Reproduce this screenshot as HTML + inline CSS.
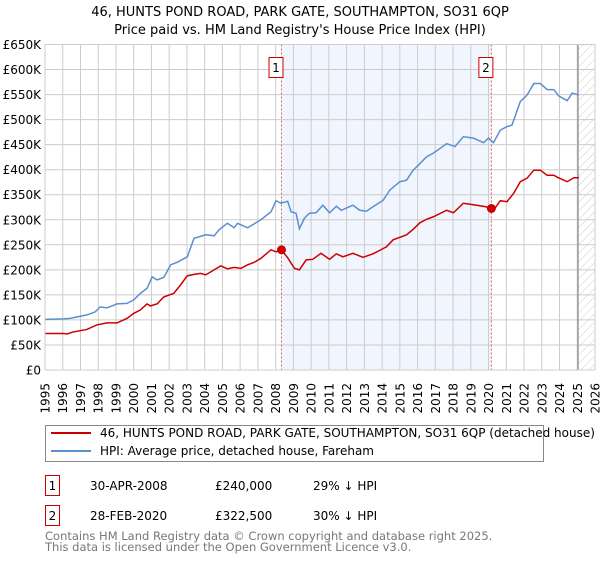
<!DOCTYPE html>
<html><head><meta charset="utf-8"><style>
body{margin:0;background:#fff}
svg text{font-family:"DejaVu Sans","Liberation Sans",sans-serif;}
</style></head><body>
<svg width="600" height="560" xmlns="http://www.w3.org/2000/svg">
<defs><pattern id="hatch" width="6" height="6" patternUnits="userSpaceOnUse" patternTransform="rotate(45)"><line x1="0" y1="0" x2="0" y2="6" stroke="#ccc" stroke-width="1"/></pattern></defs>
<text x="300" y="16" text-anchor="middle" font-size="13">46, HUNTS POND ROAD, PARK GATE, SOUTHAMPTON, SO31 6QP</text>
<text x="300" y="34" text-anchor="middle" font-size="13">Price paid vs. HM Land Registry's House Price Index (HPI)</text>
<g id="plot"></g>
<g>
<rect x="45.5" y="425.5" width="498" height="36" fill="#fff" stroke="#888"/>
<line x1="51" y1="433" x2="91" y2="433" stroke="#cc0000" stroke-width="2"/>
<text x="100" y="437" font-size="12">46, HUNTS POND ROAD, PARK GATE, SOUTHAMPTON, SO31 6QP (detached house)</text>
<line x1="51" y1="451" x2="91" y2="451" stroke="#5b8fd0" stroke-width="2"/>
<text x="100" y="455" font-size="12">HPI: Average price, detached house, Fareham</text>
</g>
<g>
<rect x="45.5" y="475.5" width="14" height="20" fill="#fff" stroke="#cc0000"/>
<text x="52.5" y="490" font-size="12" text-anchor="middle">1</text>
<text x="90" y="490" font-size="12">30-APR-2008</text>
<text x="215" y="490" font-size="12">£240,000</text>
<text x="313" y="490" font-size="12">29% ↓ HPI</text>
<rect x="45.5" y="505.5" width="14" height="20" fill="#fff" stroke="#cc0000"/>
<text x="52.5" y="520" font-size="12" text-anchor="middle">2</text>
<text x="90" y="520" font-size="12">28-FEB-2020</text>
<text x="215" y="520" font-size="12">£322,500</text>
<text x="313" y="520" font-size="12">30% ↓ HPI</text>
</g>
<text x="45" y="540" font-size="11.5" fill="#777">Contains HM Land Registry data © Crown copyright and database right 2025.</text>
<text x="45" y="551" font-size="11.5" fill="#777">This data is licensed under the Open Government Licence v3.0.</text>
</svg>
<script>
const hpiYears=[1995.0,1996.04,1996.42,1997.36,1997.83,1998.11,1998.49,1999.06,1999.62,2000.0,2000.38,2000.75,2001.04,2001.32,2001.7,2002.08,2002.45,2003.02,2003.4,2004.06,2004.53,2004.81,2005.28,2005.66,2005.85,2006.42,2007.17,2007.74,2008.02,2008.3,2008.68,2008.87,2009.15,2009.34,2009.62,2009.9,2010.28,2010.66,2011.04,2011.42,2011.7,2012.36,2012.74,2013.11,2013.49,2014.06,2014.43,2015.0,2015.38,2015.75,2016.13,2016.51,2016.89,2017.64,2018.11,2018.58,2019.15,2019.72,2020.0,2020.28,2020.66,2021.04,2021.32,2021.79,2022.17,2022.55,2022.92,2023.3,2023.68,2023.96,2024.43,2024.72,2025.09];
const hpiValues=[101,102,103,110,116,126,124,132,133,140,153,163,186,180,185,210,215,226,263,270,268,280,293,284,293,284,300,316,338,333,337,316,313,282,303,313,314,329,314,327,319,329,319,317,326,339,359,376,379,399,412,426,433,452,446,466,463,454,463,454,479,486,489,536,549,572,572,560,560,547,538,553,549];
const paidYears=[1995.0,1996.04,1996.23,1996.6,1997.36,1997.92,1998.49,1999.06,1999.62,2000.0,2000.38,2000.75,2000.94,2001.32,2001.7,2002.26,2002.64,2003.02,2003.4,2003.77,2004.06,2004.53,2004.91,2005.28,2005.66,2006.04,2006.42,2006.79,2007.17,2007.74,2008.02,2008.33,2008.68,2009.06,2009.34,2009.72,2010.09,2010.56,2011.04,2011.42,2011.79,2012.36,2012.92,2013.49,2014.25,2014.62,2015.38,2015.75,2016.13,2016.51,2016.89,2017.64,2018.02,2018.58,2019.34,2020.0,2020.16,2020.28,2020.66,2021.04,2021.42,2021.79,2022.17,2022.55,2022.92,2023.3,2023.68,2023.87,2024.43,2024.81,2025.09];
const paidValues=[73,73,72,76,81,90,94,94,103,113,120,132,128,132,146,153,170,188,191,193,190,200,208,202,205,203,210,215,223,240,236,240,224,203,200,220,221,233,221,232,226,233,225,232,246,260,270,281,294,301,306,319,314,333,329,325,322.5,319,338,336,353,376,383,399,399,389,389,385,376,384,384];
const saleYears=[2008.33,2020.16];
const saleValues=[240,322.5];
const saleLabels=["1","2"];
const yTicks=[0,50,100,150,200,250,300,350,400,450,500,550,600,650];
const yTickLabels=["£0","£50K","£100K","£150K","£200K","£250K","£300K","£350K","£400K","£450K","£500K","£550K","£600K","£650K"];
const xTicks=[1995,1996,1997,1998,1999,2000,2001,2002,2003,2004,2005,2006,2007,2008,2009,2010,2011,2012,2013,2014,2015,2016,2017,2018,2019,2020,2021,2022,2023,2024,2025,2026];
const dataEndYear=2025.04;

const L=45,R=595,T=44.5,B=370;
const xs=y=>L+(y-1995)/(2026-1995)*(R-L);
const ys=v=>B-v/650*(B-T);
const NS="http://www.w3.org/2000/svg";
const g=document.getElementById('plot');
function mk(tag,attrs,parent){const e=document.createElementNS(NS,tag);for(const k in attrs)e.setAttribute(k,attrs[k]);(parent||g).appendChild(e);return e;}
let e;
e=mk('rect',{x:xs(saleYears[0]),y:T,width:xs(saleYears[1])-xs(saleYears[0]),height:B-T,fill:'#eef3fc',opacity:0.8});


e=mk('rect',{x:xs(dataEndYear),y:T,width:R-xs(dataEndYear),height:B-T,fill:'url(#hatch)'});


yTicks.forEach((v,i)=>{
 e=mk('line',{x1:L,x2:R,y1:ys(v),y2:ys(v),stroke:'#cccccc','stroke-width':1});
 
 
 e=mk('text',{x:L-4,y:ys(v)+4.5,'text-anchor':'end','font-size':12});
 e.textContent=yTickLabels[i];
 
 
});
xTicks.forEach(yr=>{
 e=mk('line',{x1:xs(yr),x2:xs(yr),y1:T,y2:B,stroke:'#cccccc','stroke-width':1});
 
 
 e=mk('text',{transform:`translate(${xs(yr)+4.5},383) rotate(-90)`,'text-anchor':'end','font-size':12});
 e.textContent=String(yr);
 
 
});
e=mk('line',{x1:xs(dataEndYear),x2:xs(dataEndYear),y1:T,y2:B,stroke:'#999','stroke-width':1.5});


saleYears.forEach((yr,i)=>{
 e=mk('line',{x1:xs(yr),x2:xs(yr),y1:T,y2:B,stroke:'#e06060','stroke-width':1,'stroke-dasharray':'2,2'});
 
 
});
e=mk('polyline',{points:hpiYears.map((y,i)=>xs(y)+','+ys(hpiValues[i])).join(' '),fill:'none',stroke:'#5b8fd0','stroke-width':1.5});


e=mk('polyline',{points:paidYears.map((y,i)=>xs(y)+','+ys(paidValues[i])).join(' '),fill:'none',stroke:'#cc0000','stroke-width':1.5});


saleYears.forEach((yr,i)=>{
 e=mk('circle',{cx:xs(yr),cy:ys(saleValues[i]),r:4.5,fill:'#cc0000'});
 
 
 e=mk('rect',{x:xs(yr)-12.5,y:57.5,width:14,height:20,fill:'#fff',stroke:'#cc0000'});
 
 
 e=mk('text',{x:xs(yr)-5.5,y:72,'text-anchor':'middle','font-size':12});
 e.textContent=saleLabels[i];
 
 
});
e=mk('rect',{x:L,y:T,width:R-L,height:B-T,fill:'none',stroke:'#cccccc'});


</script>
</body></html>
